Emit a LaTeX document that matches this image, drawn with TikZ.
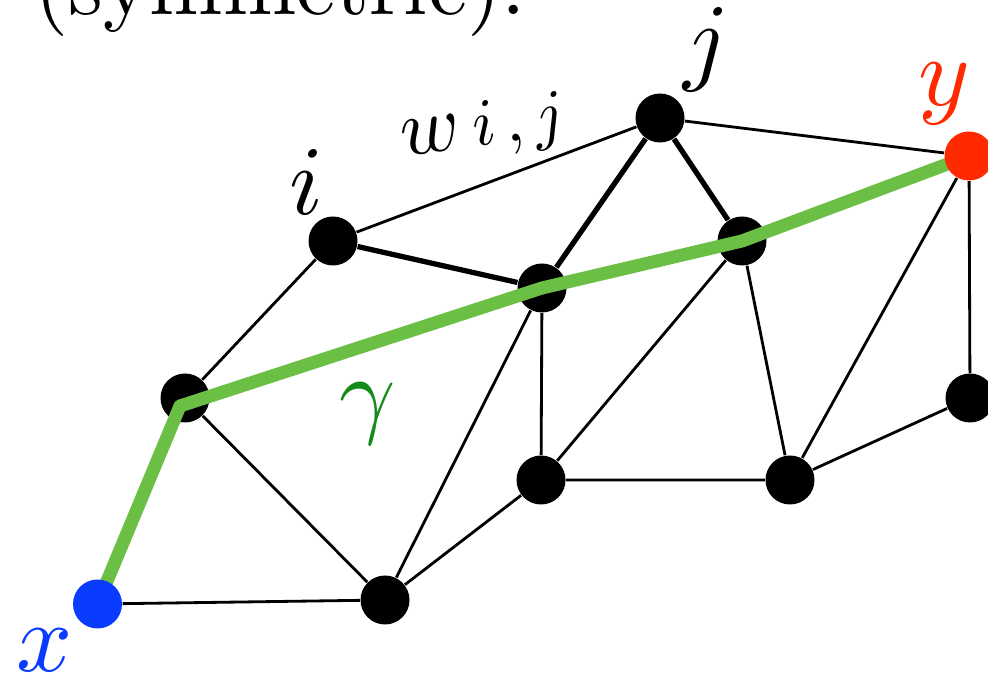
\documentclass[tikz,border=0pt]{standalone}
\usepackage{fontspec}
\setmainfont{lmroman10-regular}[Extension=.otf]
\DeclareFontShape{OML}{cmm}{m}{it}{<-> cmmi10}{}
\usetikzlibrary{backgrounds}
\definecolor{cblue}{HTML}{0A3CFF}
\definecolor{cred}{HTML}{FF2A00}
\definecolor{cgreen}{HTML}{6CBF45}
\definecolor{cdark}{HTML}{138A1A}
\pgfdeclarelayer{front}
\pgfsetlayers{background,main,front}
\tikzset{
  vertex/.style={circle, fill=#1, inner sep=0pt, minimum size=4.9mm},
  vertex/.default=black,
  link/.style={draw=black, line width=0.8pt},
  heavy/.style={draw=black, line width=1.5pt},
  geodesic/.style={draw=cgreen, line width=3.7pt, line join=round, line cap=round},
  lab/.style={inner sep=0pt, anchor=base, font=\fontsize{28}{30}\selectfont},
}

\begin{document}
\begin{tikzpicture}
  \useasboundingbox (0,0) rectangle (9.88,6.79);
  \clip (0,0) rectangle (9.88,6.79);
  \node[lab, anchor=base west, font=\fontsize{25}{30}\selectfont] (title) at (0.34,6.64) {(symmetric).};
  % vertices
  \node[vertex] (a) at (1.85,2.81) {};
  \node[vertex] (i) at (3.33,4.38) {};
  \node[vertex] (b) at (3.85,0.79) {};
  \node[vertex] (c) at (5.42,3.91) {};
  \node[vertex] (j) at (6.60,5.61) {};
  \node[vertex] (d) at (7.42,4.38) {};
  \node[vertex] (e) at (5.41,1.99) {};
  \node[vertex] (f) at (7.90,1.99) {};
  \node[vertex] (g) at (9.70,2.81) {};
  \begin{pgfonlayer}{front}
    \node[vertex=cblue] (x) at (0.975,0.75) {};
    \node[vertex=cred] (y) at (9.69,5.23) {};
  \end{pgfonlayer}
  % edges
  \begin{pgfonlayer}{background}
    \draw[link] (x) -- (b) (a) -- (i) (a) -- (b) (i) -- (j) (j) -- (y)
      (b) -- (c) (b) -- (e) (c) -- (e) (e) -- (f) (e) -- (d) (d) -- (f)
      (f) -- (y) (f) -- (g) (g) -- (y);
    \draw[heavy] (i) -- (c) -- (j) -- (d);
  \end{pgfonlayer}
  % path from x to y
  \draw[geodesic] (x.center) -- ([shift={(-0.05,-0.08)}]a.center) -- (c.center) -- (d.center) -- (y.center);
  % labels
  \node[lab, text=cblue] (xl) at (0.45,0.07) {$x$};
  \node[lab, text=cred] (yl) at (9.44,5.73) {$y$};
  \node[lab] (il) at (3.06,4.64) {$i$};
  \node[lab] (jl) at (7.07,6.06) {$j$};
  \node[lab, text=cdark] (gl) at (3.68,2.53) {$\gamma$};
  \node[lab, anchor=base west, rotate=8, font=\fontsize{23}{26}\selectfont] (wl) at (4.03,5.22)
    {$w$\hspace{0.12cm}{\fontsize{19}{22}\selectfont$i\mkern3mu{,}\mkern3mu j$}};
\end{tikzpicture}
\end{document}
